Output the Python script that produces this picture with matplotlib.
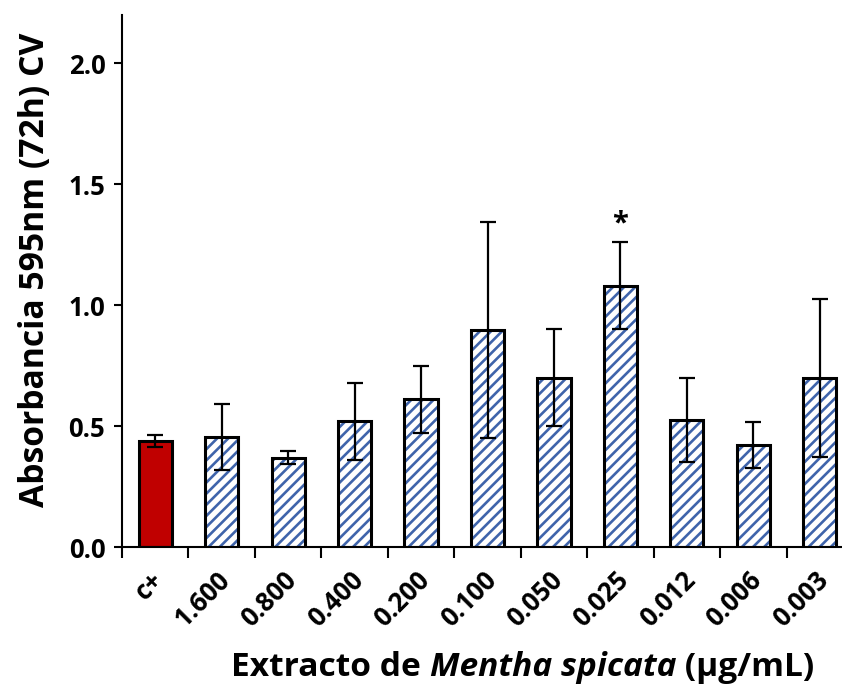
import matplotlib
matplotlib.use('Agg')
import matplotlib.pyplot as plt
from matplotlib.transforms import ScaledTranslation
from matplotlib.offsetbox import TextArea, HPacker, AnnotationBbox

# data
categories = ['c+', '1.600', '0.800', '0.400', '0.200', '0.100',
              '0.050', '0.025', '0.012', '0.006', '0.003']
values = [0.44, 0.455, 0.37, 0.52, 0.61, 0.897, 0.70, 1.08, 0.525, 0.422, 0.698]
errors = [0.025, 0.135, 0.025, 0.16, 0.14, 0.447, 0.20, 0.18, 0.173, 0.094, 0.327]
significant = ['0.025']


def main():
    plt.rcParams['font.family'] = ['Open Sans', 'DejaVu Sans']
    plt.rcParams['font.weight'] = 'bold'
    plt.rcParams['hatch.linewidth'] = 1.9

    fig = plt.figure(figsize=(8.42, 6.86), dpi=100)
    ax = fig.add_axes([122 / 842, 139 / 686, 731 / 842, 532 / 686])

    x = list(range(len(categories)))
    fills = ['#C00000'] + ['white'] * (len(categories) - 1)
    hatches = [''] + ['///'] * (len(categories) - 1)

    for xi, v, fc, h in zip(x, values, fills, hatches):
        ax.bar(xi, v, width=0.5, color=fc, hatch=h, edgecolor='#3F64AB',
               linewidth=0, zorder=2)
    ax.bar(x, values, width=0.5, fill=False, edgecolor='black',
           linewidth=2.2, zorder=3)
    ax.errorbar(x, values, yerr=errors, fmt='none', ecolor='black',
                elinewidth=1.6, capsize=6, capthick=1.6, zorder=4)

    for cat in significant:
        i = categories.index(cat)
        ax.text(i, values[i] + errors[i] + 0.015, '*', ha='center',
                va='bottom', fontsize=21, fontweight='bold')

    ax.set_xlim(-0.5, len(categories) - 0.5)
    ax.set_ylim(0, 2.2)
    ax.set_yticks([0, 0.5, 1.0, 1.5, 2.0])
    ax.set_yticklabels(['0.0', '0.5', '1.0', '1.5', '2.0'], fontsize=18.5,
                       fontweight='bold')
    ax.set_xticks(x)
    ax.set_xticklabels(categories, rotation=45, ha='right',
                       rotation_mode='anchor', fontsize=18.5, fontweight='bold')
    ax.tick_params(axis='x', which='major', length=0, pad=14)
    shift = ScaledTranslation(-5 / 100, 0, fig.dpi_scale_trans)
    for lab in ax.get_xticklabels():
        lab.set_transform(lab.get_transform() + shift)
    ax.set_xticks([i - 0.5 for i in x] + [len(x) - 0.5], minor=True)
    ax.tick_params(axis='x', which='minor', length=8, width=1.5,
                   direction='out')
    ax.tick_params(axis='y', length=6, width=1.5, direction='out', pad=6)

    ax.spines['top'].set_visible(False)
    ax.spines['right'].set_visible(False)
    ax.spines['left'].set_linewidth(1.5)
    ax.spines['bottom'].set_linewidth(1.5)

    fig.text(35 / 842, 1 - 270 / 686, 'Absorbancia 595nm (72h) CV',
             rotation=90, ha='center', va='center', fontsize=24.2,
             fontweight='bold')

    style = dict(fontsize=24.1, fontweight='bold', color='black')
    parts = [TextArea('Extracto de ', textprops=style),
             TextArea('Mentha spicata', textprops=dict(style, style='italic')),
             TextArea(' (μg/mL)', textprops=style)]
    label = HPacker(children=parts, align='baseline', pad=0, sep=0)
    ab = AnnotationBbox(label, (523 / 842, 1 - 668 / 686),
                        xycoords='figure fraction', frameon=False,
                        box_alignment=(0.5, 0.5))
    fig.add_artist(ab)

    plt.savefig('out.png', dpi=100)


if __name__ == '__main__':
    main()
